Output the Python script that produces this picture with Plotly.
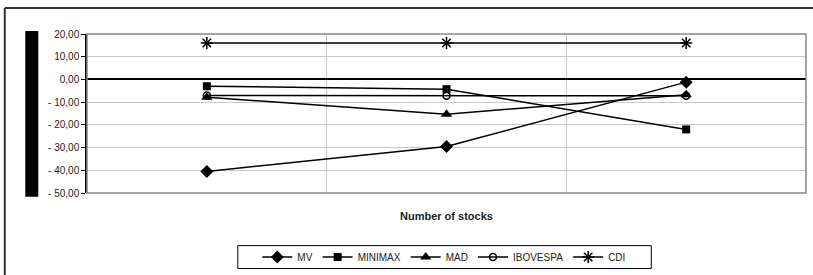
import plotly.graph_objects as go

categories = ["1", "2", "3"]
mv = [-40.5, -29.5, -1.2]
minimax = [-3.0, -4.3, -22.0]
mad = [-7.8, -15.3, -6.8]
ibovespa = [-7.1, -7.2, -7.2]
cdi = [16.0, 16.0, 16.0]

y_tickvals = [20, 10, 0, -10, -20, -30, -40, -50]
y_ticktext = ["20,00", "10,00", "0,00", "- 10,00", "- 20,00", "- 30,00", "- 40,00", "- 50,00"]

series = [
    ("MV", mv, dict(symbol="diamond", size=10)),
    ("MINIMAX", minimax, dict(symbol="square", size=8)),
    ("MAD", mad, dict(symbol="triangle-up", size=10)),
    ("IBOVESPA", ibovespa, dict(symbol="circle-open", size=7, line=dict(width=1.5, color="black"))),
    ("CDI", cdi, dict(symbol="asterisk-open", size=10, line=dict(width=1.5, color="black"))),
]

fig = go.Figure()
for name, vals, mk in series:
    fig.add_trace(go.Scatter(
        x=categories, y=vals, name=name, mode="lines+markers",
        line=dict(color="black", width=1.5),
        marker=dict(color="black", **mk),
    ))

L, R, T, B = 86.7, 805.7, 34, 193.3
W, H = 813, 275
pw, ph = R - L, B - T

def px(x):
    return (x - L) / pw

def py(y):
    return (B - y) / ph

font = "Liberation Sans, Arial, sans-serif"
fig.update_layout(
    width=W, height=H,
    margin=dict(l=L, r=W - R, t=T, b=H - B, pad=0, autoexpand=False),
    paper_bgcolor="white", plot_bgcolor="white",
    font=dict(family=font, size=10, color="#222"),
    showlegend=True,
    legend=dict(
        orientation="h", x=px(444), xanchor="center", y=py(257.5), yanchor="middle",
        borderwidth=0, bgcolor="rgba(0,0,0,0)", font=dict(size=10, color="#222"),
        itemwidth=30, tracegroupgap=0,
    ),
    xaxis=dict(
        type="category", range=[-0.5, 2.5], tickson="boundaries",
        showticklabels=False, ticks="", showgrid=True, gridcolor="#c8c8c8", gridwidth=1,
        showline=False, zeroline=False, fixedrange=True,
    ),
    yaxis=dict(
        range=[-50, 20], tickvals=y_tickvals, ticktext=y_ticktext,
        ticks="outside", ticklen=4, tickcolor="black", tickwidth=1,
        showline=True, linecolor="black", linewidth=1.5,
        showgrid=True, gridcolor="#c8c8c8", gridwidth=1,
        zeroline=True, zerolinecolor="black", zerolinewidth=1.5,
        tickfont=dict(size=10, color="#222"), fixedrange=True,
    ),
    shapes=[
        dict(type="rect", xref="x domain", yref="y domain", x0=0, x1=1, y0=0, y1=1,
             line=dict(color="#888", width=1.5), layer="above"),
        dict(type="line", xref="paper", yref="paper", x0=px(4.5), x1=px(820), y0=py(8), y1=py(8),
             line=dict(color="#333", width=2)),
        dict(type="line", xref="paper", yref="paper", x0=px(4.5), x1=px(4.5), y0=py(8), y1=py(280),
             line=dict(color="#333", width=2)),
        dict(type="rect", xref="paper", yref="paper", x0=px(25), x1=px(38), y0=py(197), y1=py(31),
             fillcolor="black", line=dict(width=0)),
        dict(type="rect", xref="paper", yref="paper", x0=px(237.5), x1=px(651), y0=py(269), y1=py(246),
             line=dict(color="black", width=1)),
    ],
    annotations=[
        dict(text="<b>Number of stocks</b>", xref="paper", yref="paper", x=0.5, y=py(216),
             xanchor="center", yanchor="middle", showarrow=False,
             font=dict(size=11, color="#222")),
    ],
)

fig.write_html(
    "out.html",
    config={"displayModeBar": False},
    post_script="document.body.style.margin='0';document.body.style.overflow='hidden';",
)
